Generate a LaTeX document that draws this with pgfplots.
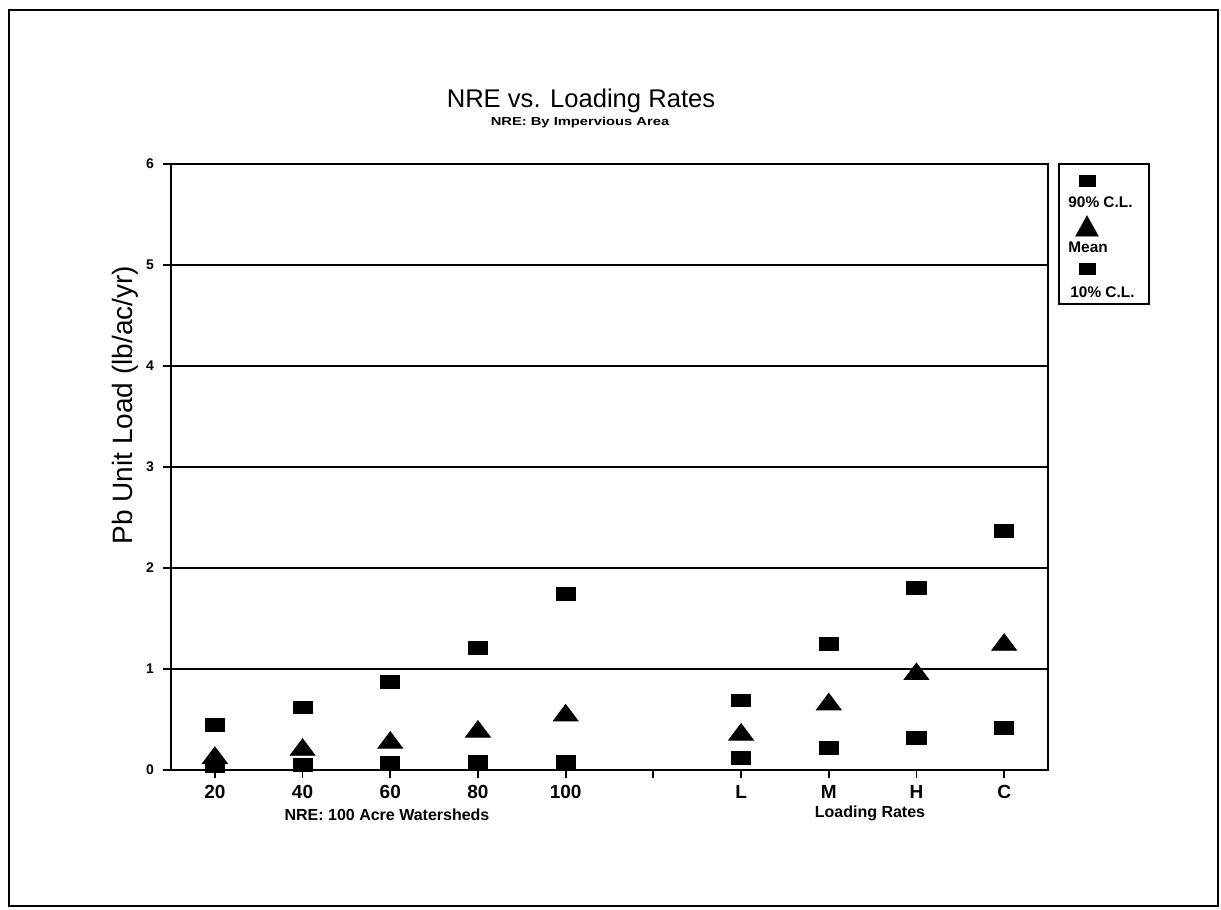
\documentclass[border=0pt]{standalone}
\usepackage{fontspec}
\setmainfont{Liberation Sans}
\newfontfamily\symfont{DejaVu Sans}
\usepackage{graphicx}
\usepackage{pgfplots}
\pgfplotsset{compat=1.18}
\begin{document}
\begin{tikzpicture}[x=0.5pt,y=-0.5pt]
\useasboundingbox (0,0) rectangle (1221,910);
\draw[line width=1.3pt] (9,10) rectangle (1218,906);
\begin{axis}[
  at={(85.5pt,-385pt)}, anchor=south west,
  scale only axis, width=438.5pt, height=303pt,
  xmin=-0.5, xmax=9.5, ymin=0, ymax=6,
  xtick={0,1,2,3,4,5,6,7,8,9},
  xticklabels={20,40,60,80,100,,L,M,H,C},
  ytick={0,1,2,3,4,5,6},
  ymajorgrids, grid style={black, line width=0.9pt},
  axis line style={line width=1pt},
  tick style={black, line width=0.9pt},
  tick align=outside, tick pos=left,
  major tick length=4pt,
  /pgf/number format/assume math mode=true,
  xticklabel style={font=\bfseries\fontsize{9.5}{11}\selectfont},
  yticklabel style={font=\bfseries\fontsize{7}{8}\selectfont, xshift=-1pt},
]
% 10% C.L.
\addplot[only marks, mark=square*, mark size=3.2pt, mark options={xscale=1.5, fill=black, draw=black}]
  coordinates {(0,0.04) (1,0.05) (2,0.07) (3,0.08) (4,0.08) (6,0.12) (7,0.22) (8,0.32) (9,0.42)};
% Mean
\addplot[only marks, mark=triangle*, mark size=5.5pt, mark options={xscale=1.3, fill=black, draw=black}]
  coordinates {(0,0.12) (1,0.20) (2,0.27) (3,0.38) (4,0.54) (6,0.35) (7,0.65) (8,0.95) (9,1.24)};
% 90% C.L.
\addplot[only marks, mark=square*, mark size=3.2pt, mark options={xscale=1.5, fill=black, draw=black}]
  coordinates {(0,0.45) (1,0.62) (2,0.87) (3,1.21) (4,1.74) (6,0.69) (7,1.25) (8,1.80) (9,2.37)};
\end{axis}
% titles
\node[font=\fontsize{12.8}{14}\selectfont, anchor=base] at (581,107) {NRE vs. Loading Rates};
\node[font=\bfseries\fontsize{5.8}{7}\selectfont, anchor=base, xscale=1.27] at (580,125) {NRE: By Impervious Area};
\node[rotate=90, font=\fontsize{14}{16}\selectfont] at (125,405) {Pb Unit Load (lb/ac/yr)};
\node[font=\bfseries\fontsize{8}{9}\selectfont] at (387,815) {NRE: 100 Acre Watersheds};
\node[font=\bfseries\fontsize{8}{9}\selectfont] at (870,813) {Loading Rates};
% legend
\draw[line width=1pt] (1059,164) rectangle (1149,304);
\node[inner sep=0pt] at (1087,181) {\rule{8.5pt}{6pt}};
\node[anchor=west, inner sep=0pt, font=\bfseries\fontsize{7.7}{9}\selectfont] at (1068,202) {90\% C.L.};
\node[inner sep=0pt] at (1087,226) {\resizebox{12pt}{9pt}{\symfont ▲}};
\node[anchor=west, inner sep=0pt, font=\bfseries\fontsize{7.7}{9}\selectfont] at (1068,247) {Mean};
\node[inner sep=0pt] at (1087,269) {\rule{8.5pt}{6pt}};
\node[anchor=west, inner sep=0pt, font=\bfseries\fontsize{7.7}{9}\selectfont] at (1070,292) {10\% C.L.};
\end{tikzpicture}
\end{document}
